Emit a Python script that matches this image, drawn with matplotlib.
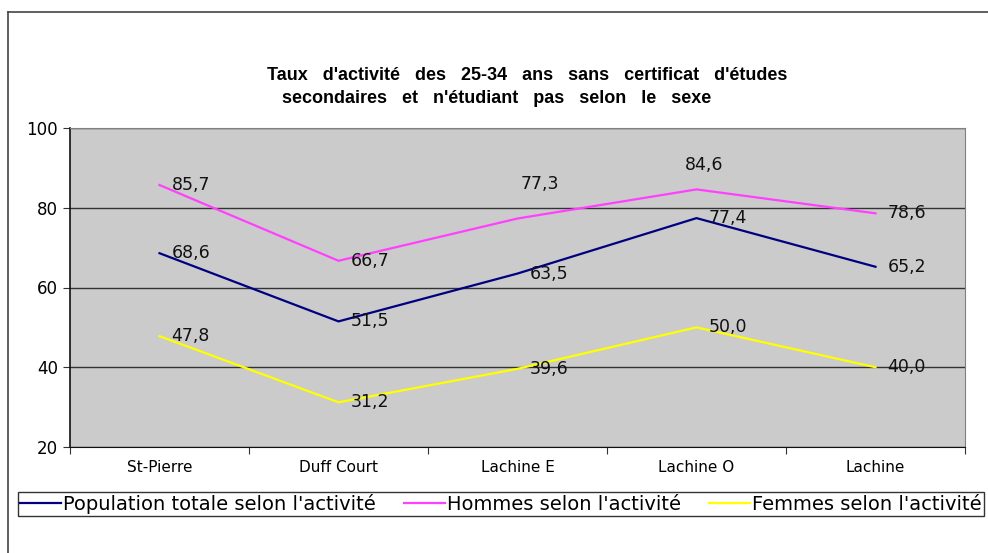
import matplotlib
matplotlib.use("Agg")
import matplotlib.pyplot as plt
from matplotlib.lines import Line2D

plt.rcParams["font.family"] = ["DejaVu Sans"]

quartiers = ["St-Pierre", "Duff Court", "Lachine E", "Lachine O", "Lachine"]
population_totale = [68.6, 51.5, 63.5, 77.4, 65.2]
hommes = [85.7, 66.7, 77.3, 84.6, 78.6]
femmes = [47.8, 31.2, 39.6, 50.0, 40.0]

titre = ["Taux d'activité des 25-34 ans sans certificat d'études",
         "secondaires et n'étudiant pas selon le sexe"]

series = [
    ("Population totale selon l'activité", population_totale, "#000080"),
    ("Hommes selon l'activité", hommes, "#ff40ff"),
    ("Femmes selon l'activité", femmes, "#ffff00"),
]

fig = plt.figure(figsize=(9.88, 5.53), dpi=100)
ax = fig.add_axes([70 / 988, 1 - 447 / 553, 895 / 988, 319 / 553])
ax.set_facecolor("#cbcbcb")

x = list(range(len(quartiers)))
for name, vals, col in series:
    ax.plot(x, vals, color=col, lw=1.6, label=name, zorder=3)
    for i, v in enumerate(vals):
        dx, dy = 12, 0
        if name.startswith("Hommes") and i == 2:
            dx, dy = 3, 35
        elif name.startswith("Hommes") and i == 3:
            dx, dy = -12, 24
        ax.annotate(f"{v:.1f}".replace(".", ","), (i, v), xytext=(dx * 0.72, dy * 0.72),
                    textcoords="offset points", ha="left", va="center",
                    fontsize=12.5, color="#111111", zorder=4)

ax.set_xlim(-0.5, 4.5)
ax.set_ylim(20, 100)
ax.set_yticks([20, 40, 60, 80, 100])
ax.yaxis.grid(True, color="#333333", lw=1)
ax.set_axisbelow(True)

ax.set_xticks([i - 0.5 for i in range(len(quartiers) + 1)])
ax.set_xticklabels([])
ax.set_xticks(x, minor=True)
ax.set_xticklabels(quartiers, minor=True, fontsize=11)
ax.tick_params(axis="x", which="minor", length=0, pad=9)
ax.tick_params(axis="x", which="major", length=5, direction="out", color="#333333")
ax.tick_params(axis="y", length=5, direction="out", labelsize=12, color="#333333")

for side in ["top", "right"]:
    ax.spines[side].set_color("#808080")
for side in ["left", "bottom"]:
    ax.spines[side].set_color("#111111")
ax.spines["left"].set_linewidth(1.2)

# titre sur deux lignes, mots espacés comme dans l'original
for ligne, xc, yc in zip(titre, [527, 497], [75, 98]):
    fig.text(xc / 988, 1 - yc / 553, "   ".join(ligne.split(" ")),
             ha="center", va="center", fontsize=13, fontweight="bold",
             family=["Liberation Sans Narrow", "Liberation Sans", "DejaVu Sans"])

leg = fig.legend(loc="center", bbox_to_anchor=(501 / 988, 1 - 504 / 553), ncol=3,
                 frameon=True, fancybox=False, fontsize=14, handlelength=2.1,
                 handletextpad=0.1, columnspacing=1.45, borderpad=0.12,
                 borderaxespad=0)
leg.get_frame().set_edgecolor("#000000")
leg.get_frame().set_linewidth(1)

fig.add_artist(Line2D([8 / 988, 8 / 988], [0, 1 - 12 / 553], color="#444444", lw=1.2))
fig.add_artist(Line2D([8 / 988, 1], [1 - 12 / 553, 1 - 12 / 553], color="#444444", lw=1.2))

fig.savefig("out.png", dpi=100)
